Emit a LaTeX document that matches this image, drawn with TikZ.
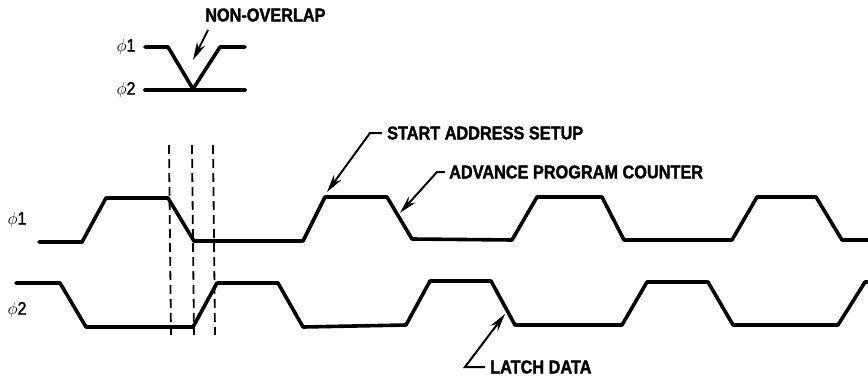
\documentclass[tikz,border=0pt]{standalone}
\usepackage{fontspec}
\setmainfont{Liberation Sans}[FakeStretch=0.88,FakeBold=1.5]
\usetikzlibrary{arrows.meta}
\begin{document}
\begin{tikzpicture}[x=1pt,y=-1pt,
  wave/.style={line width=3.6pt,line join=round,line cap=round},
  guide/.style={line width=1.8pt,dash pattern=on 9pt off 5pt},
  callout/.style={line width=2pt,-{Stealth[length=18pt,width=9pt]}},
  lbl/.style={font=\fontsize{18.5}{18.5}\selectfont\bfseries,inner sep=0pt,anchor=west},
  phl/.style={font=\fontsize{18}{18}\selectfont,inner sep=0pt}]
\useasboundingbox (0,0) rectangle (868,380);
% inset
\node[phl] (ip1) at (126,47) {$\phi$1};
\node[phl] (ip2) at (126,90) {$\phi$2};
\draw[wave] (145,47) -- (168,47) -- (193,89) -- (220,47) -- (245,47);
\draw[wave] (145,90) -- (245,90);
\node[lbl] (nov) at (205,15) {NON-OVERLAP};
\coordinate (novtip) at (193,60);
\draw[callout] (208,30) -- (novtip);
% main phase labels
\node[phl] (p1) at (17,220) {$\phi$1};
\node[phl] (p2) at (17,310) {$\phi$2};
% waveforms
\draw[wave] (39,242) -- (82,242) -- (106,198) -- (168,198) -- (194,241) -- (303,241) -- (325,197) -- (387,197) -- (412,239) -- (512,240) -- (537,197) -- (602,197) -- (624,240) -- (732,240) -- (757,197) -- (816,197) -- (842,240) -- (868,240);
\draw[wave] (16,283) -- (60,283) -- (86,327) -- (193,327) -- (217,283) -- (278,283) -- (303,327) -- (406,325) -- (430,281) -- (491,281) -- (515,325) -- (622,325) -- (647,282) -- (708,282) -- (733,325) -- (838,325) -- (865,282) -- (868,282);
% dashed guides
\draw[guide] (169,145) -- (171,335);
\draw[guide] (192,145) -- (194,335);
\draw[guide] (213,145) -- (215,335);
% callouts
\node[lbl] (sas) at (387,133) {START ADDRESS SETUP};
\coordinate (sastip) at (327,192);
\draw[callout] ([xshift=-5pt]sas.west) -- ++(-12,0) -- (sastip);
\node[lbl] (apc) at (449,172) {ADVANCE PROGRAM COUNTER};
\coordinate (apctip) at (400,213);
\draw[callout] ([xshift=-4pt]apc.west) -- ++(-8,0) -- (apctip);
\node[lbl] (ld) at (490,367) {LATCH DATA};
\coordinate (ldtip) at (505,314);
\draw[callout] ([xshift=-5pt]ld.west) -- ++(-20,0) -- (ldtip);
\end{tikzpicture}
\end{document}
